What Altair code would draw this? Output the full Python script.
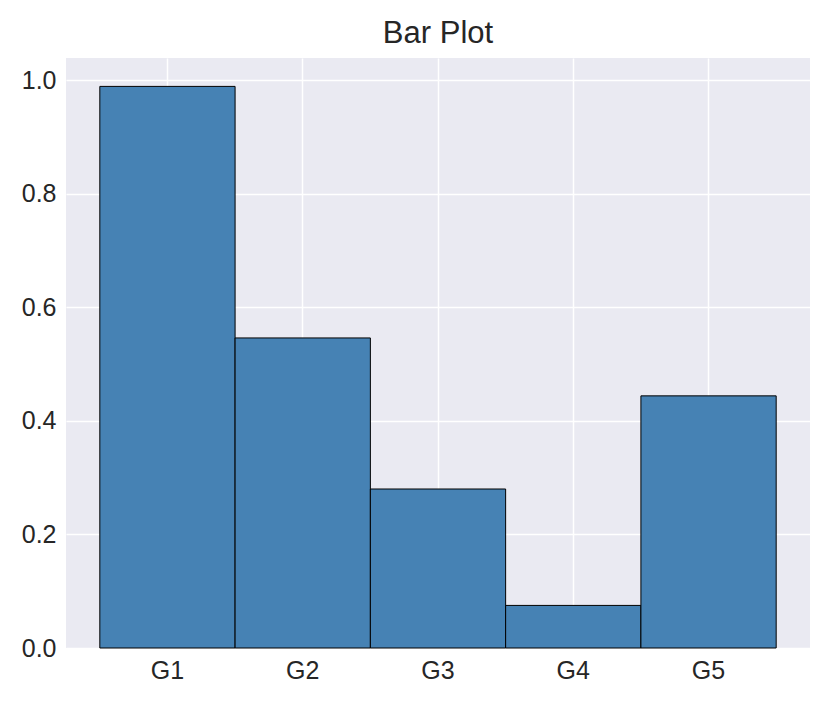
import altair as alt
import pandas as pd

categories = ["G1", "G2", "G3", "G4", "G5"]
values = [0.989, 0.546, 0.280, 0.075, 0.444]

df = pd.DataFrame({"group": categories, "value": values})

font = "Liberation Sans"

chart = alt.Chart(df).mark_bar(
    color="#4682B4", stroke="black", strokeWidth=1
).encode(
    x=alt.X("group:N", sort=categories, title=None,
            scale=alt.Scale(paddingInner=0, paddingOuter=0.25),
            axis=alt.Axis(labelAngle=0, bandPosition=0.5, grid=True, ticks=False,
                          domain=False, labelPadding=10, labelFontSize=25,
                          labelColor="#262626", labelFont=font,
                          gridColor="white", gridWidth=1.5)),
    y=alt.Y("value:Q", title=None,
            scale=alt.Scale(domain=[0, 1.039], nice=False, zero=True),
            axis=alt.Axis(values=[0, 0.2, 0.4, 0.6, 0.8, 1.0], format=".1f",
                          ticks=False, domain=False, labelPadding=10,
                          labelFontSize=25, labelColor="#262626", labelFont=font,
                          gridColor="white", gridWidth=1.5)),
).properties(
    width=744, height=590,
    title=alt.TitleParams("Bar Plot", fontSize=31, font=font, fontWeight="normal",
                          color="#262626", offset=8),
    autosize=alt.AutoSizeParams(type="none"),
    padding={"left": 58, "top": 50, "right": 10, "bottom": 40},
    background="white",
).configure_view(
    fill="#EAEAF2", stroke=None
)

chart.save("out.html", embed_options={"renderer": "svg", "actions": False})
